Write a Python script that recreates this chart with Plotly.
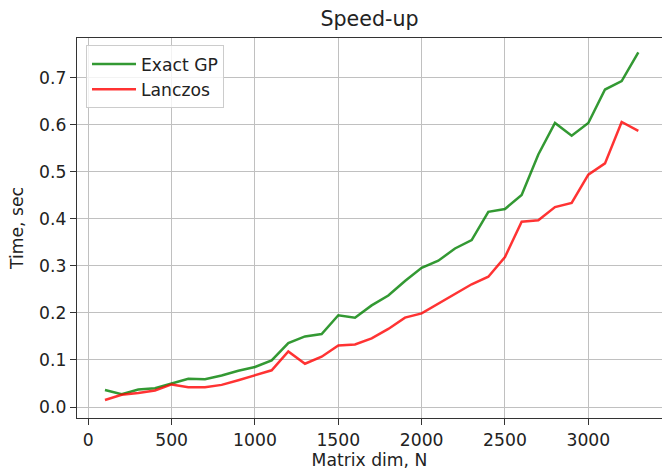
import plotly.graph_objects as go

# ---- data ----
matrix_dim = [100, 200, 300, 400, 500, 600, 700, 800, 900, 1000, 1100,
              1200, 1300, 1400, 1500, 1600, 1700, 1800, 1900, 2000, 2100,
              2200, 2300, 2400, 2500, 2600, 2700, 2800, 2900, 3000, 3100,
              3200, 3300]

exact_gp = [0.036, 0.027, 0.037, 0.040, 0.050, 0.060, 0.059, 0.067, 0.077,
            0.085, 0.099, 0.136, 0.150, 0.155, 0.195, 0.190, 0.216, 0.237,
            0.268, 0.296, 0.311, 0.337, 0.355, 0.415, 0.421, 0.451, 0.537,
            0.604, 0.577, 0.604, 0.675, 0.693, 0.754]

lanczos = [0.015, 0.026, 0.030, 0.035, 0.048, 0.042, 0.042, 0.047, 0.057,
           0.067, 0.078, 0.118, 0.092, 0.107, 0.131, 0.133, 0.146, 0.166,
           0.190, 0.199, 0.220, 0.241, 0.261, 0.277, 0.319, 0.394, 0.397,
           0.425, 0.434, 0.494, 0.518, 0.606, 0.587]

x_ticks = [0, 500, 1000, 1500, 2000, 2500, 3000]
y_ticks = [0.0, 0.1, 0.2, 0.3, 0.4, 0.5, 0.6, 0.7]
y_tick_labels = ["0.0", "0.1", "0.2", "0.3", "0.4", "0.5", "0.6", "0.7"]

FONT = "DejaVu Sans"
FS = 17.2
TXT = "#222222"
AX = "#333333"
GRID = "#c0c0c0"

fig = go.Figure()
fig.add_trace(go.Scatter(x=matrix_dim, y=exact_gp, mode="lines", name="Exact GP",
                         line=dict(color="rgba(0,128,0,0.8)", width=2.5)))
fig.add_trace(go.Scatter(x=matrix_dim, y=lanczos, mode="lines", name="Lanczos",
                         line=dict(color="rgba(255,0,0,0.8)", width=2.5)))

fig.update_layout(
    width=662, height=470,
    margin=dict(l=77, r=0, t=38, b=52, pad=0),
    paper_bgcolor="white", plot_bgcolor="white",
    font=dict(family=FONT, size=FS, color=TXT),
    title=dict(text="Speed-up", x=0.5, xref="paper", xanchor="center",
               y=1 - 19 / 470, yref="container", yanchor="middle",
               font=dict(family=FONT, size=20.6, color=TXT)),
    showlegend=True,
    legend=dict(x=0.0154, y=0.981, xanchor="left", yanchor="top",
                bgcolor="rgba(255,255,255,0.8)", bordercolor="#cccccc",
                borderwidth=1, font=dict(family=FONT, size=FS, color=TXT),
                tracegroupgap=0, itemwidth=44),
)

fig.update_xaxes(
    range=[-67.8, 3442], tickvals=x_ticks, ticktext=[str(v) for v in x_ticks],
    showgrid=True, gridcolor=GRID, gridwidth=1.3, zeroline=False,
    showline=True, linecolor=AX, linewidth=1.4, mirror=True,
    ticks="outside", ticklen=6, tickwidth=1.4, tickcolor=AX,
    tickfont=dict(family=FONT, size=FS, color=TXT),
    title=dict(text="Matrix dim, N", standoff=4, font=dict(family=FONT, size=FS, color=TXT)),
)
fig.update_yaxes(
    range=[-0.0234, 0.7846], tickvals=y_ticks, ticktext=y_tick_labels,
    showgrid=True, gridcolor=GRID, gridwidth=1.3, zeroline=False,
    showline=True, linecolor=AX, linewidth=1.4, mirror=False,
    ticks="outside", ticklen=6, tickwidth=1.4, tickcolor=AX,
    tickfont=dict(family=FONT, size=FS, color=TXT),
    title=dict(text="Time, sec", standoff=10, font=dict(family=FONT, size=FS, color=TXT)),
)

fig.write_html("out.html")
